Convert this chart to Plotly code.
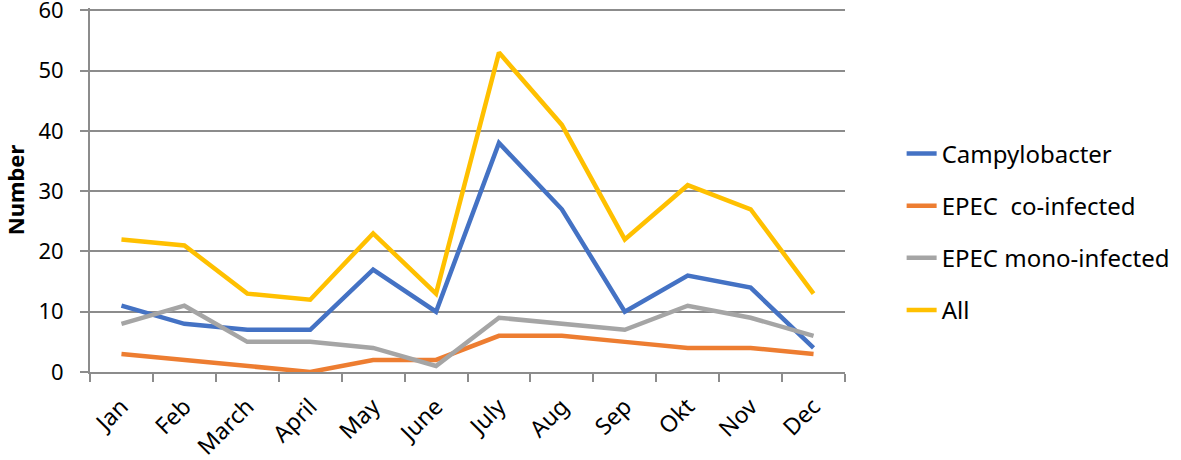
import plotly.graph_objects as go

months = ["Jan", "Feb", "March", "April", "May", "June", "July", "Aug", "Sep", "Okt", "Nov", "Dec"]
campylobacter = [11, 8, 7, 7, 17, 10, 38, 27, 10, 16, 14, 4]
epec_co = [3, 2, 1, 0, 2, 2, 6, 6, 5, 4, 4, 3]
epec_mono = [8, 11, 5, 5, 4, 1, 9, 8, 7, 11, 9, 6]
all_cases = [22, 21, 13, 12, 23, 13, 53, 41, 22, 31, 27, 13]
y_ticks = [0, 10, 20, 30, 40, 50, 60]

series = [
    ("Campylobacter", campylobacter, "#4472C4"),
    ("EPEC  co-infected", epec_co, "#ED7D31"),
    ("EPEC mono-infected", epec_mono, "#A5A5A5"),
    ("All", all_cases, "#FFC000"),
]

FONT = "Noto Sans"
GRID = "#8C8C8C"

fig = go.Figure()
for i, (name, vals, color) in enumerate(series):
    fig.add_trace(go.Scatter(
        x=months, y=vals, name=name, mode="lines",
        line=dict(color=color, width=4.5),
        legendgroup=f"g{i}",
    ))

fig.update_layout(
    width=1181, height=460,
    margin=dict(l=90, r=336, t=8, b=88, autoexpand=False),
    plot_bgcolor="white", paper_bgcolor="white",
    font=dict(family=FONT, size=22, color="black"),
    legend=dict(
        x=1.075, y=0.385, xanchor="left", yanchor="middle",
        font=dict(size=24), tracegroupgap=18,
    ),
    xaxis=dict(
        type="category", tickangle=-45, range=[-0.5, 11.5],
        showline=True, linecolor=GRID, linewidth=2,
        ticks="outside", tickson="boundaries", ticklen=8, tickcolor=GRID, tickwidth=2,
        showgrid=False, tickfont=dict(size=23), automargin=False,
        ticklabelstandoff=10,
    ),
    yaxis=dict(
        range=[0, 60.4], tickvals=y_ticks,
        showgrid=True, gridcolor=GRID, gridwidth=2,
        showline=True, linecolor=GRID, linewidth=2,
        ticks="outside", ticklen=8, tickcolor=GRID, tickwidth=2,
        zeroline=False, tickfont=dict(size=22), automargin=False,
        ticklabelstandoff=12, ticklabeloverflow="allow",
        title=dict(text="<b>Number</b>", font=dict(size=22), standoff=10),
    ),
)

fig.write_html(
    "out.html",
    config={"displayModeBar": False},
    post_script="document.body.style.margin='0';",
)
